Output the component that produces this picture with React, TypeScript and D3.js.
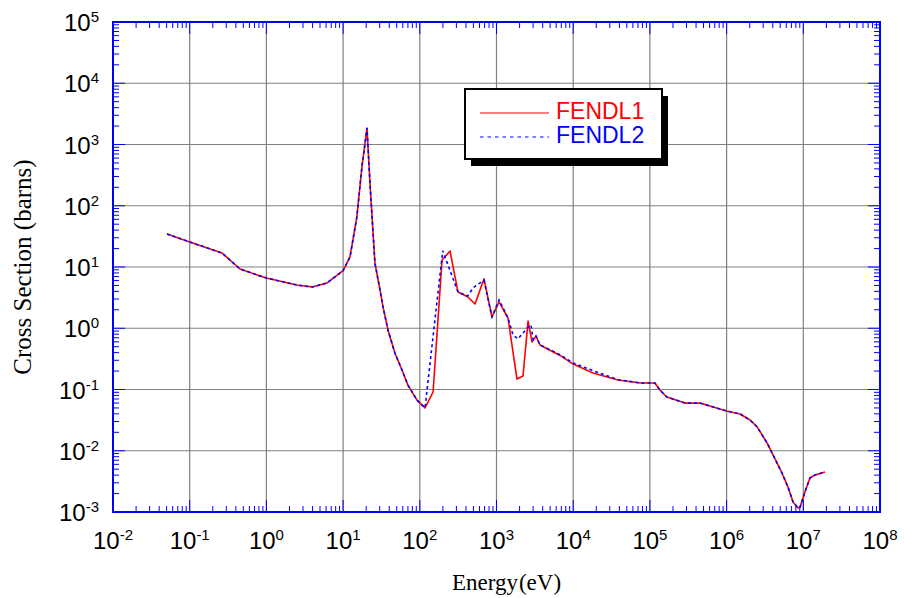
import * as d3 from "d3";
import React from "react";

// FENDL1 (red, solid)
const fendl1Energy = [
  0.0506, 0.1, 0.264, 0.453, 1, 2.5, 3.94, 6.17, 10, 12.3, 15.1, 17.6, 20.5,
  22.4, 26, 30, 33, 38.5, 47.5, 58.6, 70, 92, 117, 149, 195, 248, 315, 425,
  525, 687, 873, 1080, 1413, 1850, 2217, 2578, 2905, 3275, 3690, 6730, 10000,
  18100, 38400, 74300, 116000, 135000, 166000, 287000, 450000, 1e6, 1.5e6,
  2.02e6, 2.5e6, 3.37e6, 4.03e6, 5.27e6, 6.31e6, 7.35e6, 8.54e6, 9.06e6,
  1.05e7, 1.22e7, 1.42e7, 1.92e7,
];
const fendl1Sigma = [
  34.6, 25.6, 16.9, 9.27, 6.6, 5.08, 4.71, 5.49, 8.7, 14.6, 65, 430, 1860, 234,
  11.6, 4.5, 2.3, 0.93, 0.39, 0.208, 0.118, 0.067, 0.05, 0.091, 13, 18.2, 3.9,
  3.24, 2.49, 6.4, 1.53, 2.69, 1.47, 0.148, 0.166, 1.31, 0.597, 0.746, 0.533,
  0.36, 0.26, 0.186, 0.143, 0.128, 0.128, 0.098, 0.0755, 0.06, 0.06, 0.0446,
  0.0398, 0.0318, 0.0245, 0.0134, 0.00853, 0.00434, 0.00256, 0.00146, 0.00116,
  0.0012, 0.00212, 0.00359, 0.00402, 0.0045,
];

// FENDL2 (blue, dotted)
const fendl2Energy = [
  0.0506, 0.1, 0.264, 0.453, 1, 2.5, 3.94, 6.17, 10, 12.3, 15.1, 17.6, 20.5,
  22.4, 26, 30, 33, 38.5, 47.5, 58.6, 70, 92, 117, 199, 315, 420, 500, 610,
  687, 873, 1080, 1413, 1640, 1905, 2500, 2820, 3000, 3275, 3690, 6730, 10000,
  25000, 38400, 74300, 116000, 135000, 166000, 287000, 450000, 1e6, 1.5e6,
  2.02e6, 2.5e6, 3.37e6, 4.03e6, 5.27e6, 6.31e6, 7.35e6, 8.54e6, 9.06e6,
  1.05e7, 1.22e7, 1.42e7, 1.92e7,
];
const fendl2Sigma = [
  34.6, 25.6, 16.9, 9.27, 6.6, 5.08, 4.71, 5.49, 8.7, 14.6, 65, 430, 1860, 234,
  11.6, 4.5, 2.3, 0.93, 0.39, 0.208, 0.118, 0.067, 0.05, 18.4, 3.9, 3.36, 4.6,
  5.5, 6.0, 1.53, 2.9, 1.47, 0.78, 0.67, 1.0, 1.13, 0.65, 0.746, 0.533, 0.37,
  0.27, 0.175, 0.145, 0.128, 0.128, 0.098, 0.0755, 0.06, 0.06, 0.0446, 0.0398,
  0.0318, 0.0245, 0.0134, 0.00853, 0.00434, 0.00256, 0.00146, 0.00116, 0.0012,
  0.00212, 0.00359, 0.00402, 0.0045,
];

const xExponents = [-2, -1, 0, 1, 2, 3, 4, 5, 6, 7, 8];
const yExponents = [-3, -2, -1, 0, 1, 2, 3, 4, 5];
const seriesNames = ["FENDL1", "FENDL2"];
const seriesColors = ["#ff0000", "#0000ff"];

const W = 904;
const H = 598;
const margin = { left: 113, right: 24, top: 22, bottom: 86 };

const App = () => {
  const x = d3
    .scaleLog()
    .domain([1e-2, 1e8])
    .range([margin.left, W - margin.right]);
  const y = d3
    .scaleLog()
    .domain([1e-3, 1e5])
    .range([H - margin.bottom, margin.top]);

  const [x0, x1] = x.range();
  const [y0, y1] = y.range(); // y0 bottom, y1 top

  const line = d3
    .line<[number, number]>()
    .x((d) => x(d[0]))
    .y((d) => y(d[1]));

  const red = fendl1Energy.map((e, i) => [e, fendl1Sigma[i]] as [number, number]);
  const blue = fendl2Energy.map((e, i) => [e, fendl2Sigma[i]] as [number, number]);

  // minor ticks
  const xMinor: number[] = [];
  xExponents.slice(0, -1).forEach((p) => {
    for (let k = 2; k <= 9; k++) xMinor.push(k * Math.pow(10, p));
  });
  const yMinor: number[] = [];
  yExponents.slice(0, -1).forEach((p) => {
    for (let k = 2; k <= 9; k++) yMinor.push(k * Math.pow(10, p));
  });

  const tickColor = "#0000ff";
  const sans = "'Liberation Sans', Arial, sans-serif";
  const serif = "'Liberation Serif', 'Times New Roman', serif";

  const lx = 465;
  const ly = 89;
  const lw = 197;
  const lh = 70;

  return (
    <svg
      width={W}
      height={H}
      style={{ position: "absolute", left: 0, top: 0, background: "#fff" }}
    >
      {/* grid */}
      <g stroke="#808080" strokeWidth={1.2}>
        {xExponents.slice(1, -1).map((p) => (
          <line key={"gx" + p} x1={x(Math.pow(10, p))} x2={x(Math.pow(10, p))} y1={y0} y2={y1} />
        ))}
        {yExponents.slice(1, -1).map((p) => (
          <line key={"gy" + p} x1={x0} x2={x1} y1={y(Math.pow(10, p))} y2={y(Math.pow(10, p))} />
        ))}
      </g>

      {/* ticks, all four sides, pointing inward */}
      <g stroke={tickColor} strokeWidth={1}>
        {xMinor.map((v, i) => (
          <g key={"xm" + i}>
            <line x1={x(v)} x2={x(v)} y1={y0} y2={y0 - 6} />
            <line x1={x(v)} x2={x(v)} y1={y1} y2={y1 + 6} />
          </g>
        ))}
        {xExponents.map((p) => (
          <g key={"xM" + p}>
            <line x1={x(Math.pow(10, p))} x2={x(Math.pow(10, p))} y1={y0} y2={y0 - 12} />
            <line x1={x(Math.pow(10, p))} x2={x(Math.pow(10, p))} y1={y1} y2={y1 + 12} />
          </g>
        ))}
        {yMinor.map((v, i) => (
          <g key={"ym" + i}>
            <line x1={x0} x2={x0 + 6} y1={y(v)} y2={y(v)} />
            <line x1={x1} x2={x1 - 6} y1={y(v)} y2={y(v)} />
          </g>
        ))}
        {yExponents.map((p) => (
          <g key={"yM" + p}>
            <line x1={x0} x2={x0 + 12} y1={y(Math.pow(10, p))} y2={y(Math.pow(10, p))} />
            <line x1={x1} x2={x1 - 12} y1={y(Math.pow(10, p))} y2={y(Math.pow(10, p))} />
          </g>
        ))}
      </g>

      {/* curves */}
      <path d={line(red) || ""} fill="none" stroke={seriesColors[0]} strokeWidth={1.6} strokeLinejoin="round" />
      <path d={line(blue) || ""} fill="none" stroke={seriesColors[1]} strokeWidth={1.6} strokeDasharray="3,3" />

      {/* frame */}
      <rect x={x0} y={y1} width={x1 - x0} height={y0 - y1} fill="none" stroke="#0000ff" strokeWidth={2} />

      {/* x tick labels */}
      {xExponents.map((p) => (
        <text key={"xl" + p} x={x(Math.pow(10, p))} y={549} textAnchor="middle" fontFamily={sans} fontSize={24} fill="#000">
          10
          <tspan dy={-9} fontSize={15}>{p}</tspan>
        </text>
      ))}

      {/* y tick labels */}
      {yExponents.map((p) => (
        <text key={"yl" + p} x={99} y={y(Math.pow(10, p)) + 9} textAnchor="end" fontFamily={sans} fontSize={24} fill="#000">
          10
          <tspan dy={-9} fontSize={15}>{p}</tspan>
        </text>
      ))}

      {/* axis titles */}
      <text x={(x0 + x1) / 2 + 10} y={590} textAnchor="middle" fontFamily={serif} fontSize={23} fill="#000">
        Energy<tspan dx={1}>(eV)</tspan>
      </text>
      <text
        transform={`translate(31,${(y0 + y1) / 2}) rotate(-90)`}
        textAnchor="middle"
        fontFamily={serif}
        fontSize={25}
        fill="#000"
      >
        Cross Section (barns)
      </text>

      {/* legend */}
      <rect x={lx + 6} y={ly + 7} width={lw} height={lh} fill="#000" />
      <rect x={lx} y={ly} width={lw} height={lh} fill="#fff" stroke="#000" strokeWidth={2} />
      {seriesNames.map((name, i) => (
        <g key={name}>
          <line
            x1={lx + 15}
            x2={lx + 84}
            y1={ly + 24 + i * 24}
            y2={ly + 24 + i * 24}
            stroke={seriesColors[i]}
            strokeWidth={1.2}
            strokeDasharray={i === 1 ? "3.5,4" : undefined}
          />
          <text x={lx + 91} y={ly + 30 + i * 24} fontFamily={sans} fontSize={23} fill={seriesColors[i]}>
            {name}
          </text>
        </g>
      ))}
    </svg>
  );
};

export default App;
